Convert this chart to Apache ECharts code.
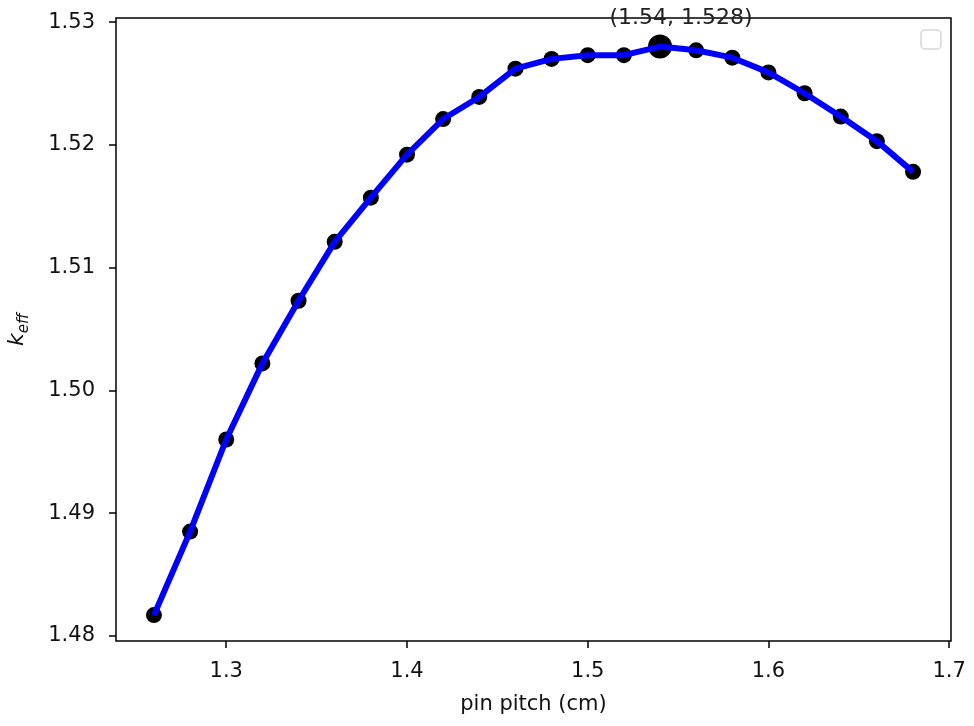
<!DOCTYPE html>
<html>
<head>
<meta charset="utf-8">
<script src="https://cdn.jsdelivr.net/npm/echarts@6/dist/echarts.min.js"></script>
<style>
  html, body { margin: 0; padding: 0; background: #fff; }
  #main { width: 974px; height: 726px; }
</style>
</head>
<body>
<div id="main"></div>
<script>
// pin pitch (cm) vs k_eff
const pitch = [1.26, 1.28, 1.30, 1.32, 1.34, 1.36, 1.38, 1.40, 1.42, 1.44, 1.46,
               1.48, 1.50, 1.52, 1.54, 1.56, 1.58, 1.60, 1.62, 1.64, 1.66, 1.68];
const keff = [1.4817, 1.4885, 1.4960, 1.5022, 1.5073, 1.5121, 1.5157, 1.5192, 1.5221, 1.5239, 1.5262,
              1.5270, 1.5273, 1.5273, 1.5280, 1.5277, 1.5271, 1.5259, 1.5242, 1.5223, 1.5203, 1.5178];
const xTicks = [1.3, 1.4, 1.5, 1.6, 1.7];
const yTicks = [1.48, 1.49, 1.50, 1.51, 1.52, 1.53];

const points = pitch.map((p, i) => [p, keff[i]]);
// peak point gets the annotation
let best = 0;
keff.forEach((v, i) => { if (v > keff[best]) best = i; });
const peak = [pitch[best], keff[best]];

const myChart = echarts.init(document.getElementById('main'));
const font = 'DejaVu Sans';

const option = {
  backgroundColor: '#fff',
  animation: false,
  grid: {
    left: 116, right: 23, top: 18, bottom: 85,
    outerBoundsMode: 'none',
    show: true, borderColor: '#000', borderWidth: 1.5, backgroundColor: 'transparent'
  },
  xAxis: {
    type: 'value',
    min: 1.239, max: 1.701,
    name: 'pin pitch (cm)',
    nameLocation: 'middle',
    nameGap: 53,
    nameTextStyle: { fontFamily: font, fontSize: 21, color: '#111' },
    axisLine: { show: false },
    splitLine: { show: false },
    axisTick: { show: true, length: 7, customValues: xTicks, lineStyle: { color: '#000', width: 1.5 } },
    axisLabel: {
      customValues: xTicks, margin: 20,
      fontFamily: font, fontSize: 21, color: '#111',
      formatter: v => v.toFixed(1)
    }
  },
  yAxis: {
    type: 'value',
    min: 1.47959, max: 1.53033,
    name: '{k|k}{sub|eff}',
    nameLocation: 'middle',
    nameRotate: 90,
    nameGap: 84,
    nameTextStyle: {
      rich: {
        k: { fontFamily: font, fontStyle: 'italic', fontSize: 22, color: '#111', lineHeight: 30, verticalAlign: 'middle' },
        sub: { fontFamily: font, fontStyle: 'italic', fontSize: 15, color: '#111', lineHeight: 14, verticalAlign: 'bottom' }
      }
    },
    axisLine: { show: false },
    splitLine: { show: false },
    axisTick: { show: true, length: 7, customValues: yTicks, lineStyle: { color: '#000', width: 1.5 } },
    axisLabel: {
      customValues: yTicks, margin: 21,
      fontFamily: font, fontSize: 21, color: '#111',
      formatter: v => v.toFixed(2)
    }
  },
  graphic: [
    {
      type: 'rect',
      shape: { x: 921, y: 30, width: 20, height: 19, r: 4 },
      style: { fill: '#fff', stroke: '#d6d6d6', lineWidth: 1.5 },
      z: 100
    }
  ],
  series: [
    {
      type: 'scatter',
      data: points,
      symbolSize: 16,
      itemStyle: { color: '#000', opacity: 1 },
      z: 2
    },
    {
      type: 'scatter',
      data: [peak],
      symbolSize: 24,
      itemStyle: { color: '#000', opacity: 1 },
      z: 2,
      label: {
        show: true,
        position: 'inside',
        offset: [21, -28],
        fontFamily: font, fontSize: 22, color: '#222',
        formatter: p => '(' + p.value[0] + ', ' + p.value[1].toFixed(3) + ')'
      }
    },
    {
      type: 'line',
      data: points,
      showSymbol: false,
      lineStyle: { color: '#0000ff', width: 6 },
      z: 3
    }
  ]
};
option && myChart.setOption(option);
</script>
</body>
</html>
